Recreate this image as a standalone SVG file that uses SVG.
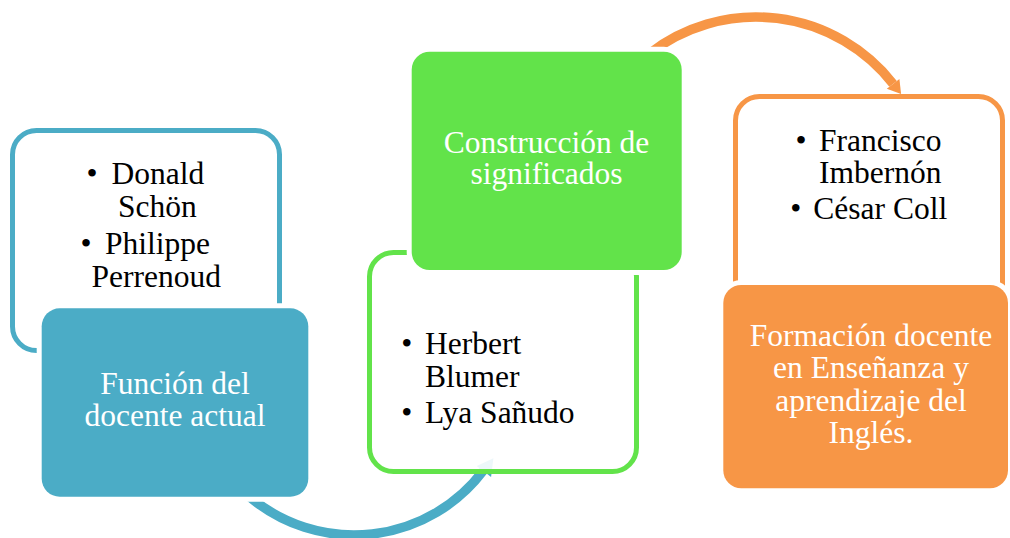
<svg xmlns="http://www.w3.org/2000/svg" width="1010" height="538" viewBox="0 0 1010 538">
  <style>
    .t { font-family: "Liberation Serif", "Times New Roman", serif; font-size: 31.5px; }
    .dark { fill: #000000; }
    .light { fill: #ffffff; }
    .outline { fill: #ffffff; fill-opacity: 0.9; stroke-width: 5; }
    .solid { stroke: #ffffff; stroke-width: 10; paint-order: stroke; }
    .arc { fill: none; stroke-width: 9.5; stroke-linecap: butt; }
  </style>
  <rect width="1010" height="538" fill="#ffffff"/>

  <g id="connectors">
    <g id="arrow-blue">
      <path class="arc" stroke="#4BACC6" d="M249.9,497.1 A162,162 0 0 0 483.4,470.5"/>
      <polygon fill="#4BACC6" points="491.1,476.9 476.7,466.1 493.4,458.3"/>
    </g>
    <g id="arrow-orange">
      <path class="arc" stroke="#F79646" d="M648.9,53.9 A174,174 0 0 1 893.1,83.9"/>
      <polygon fill="#F79646" points="899.4,79 886.8,88.8 901.1,94.1"/>
    </g>
  </g>

  <g id="node-funcion-list">
    <rect class="outline" stroke="#4BACC6" x="12.5" y="130.5" width="267" height="220" rx="24"/>
    <text class="t dark"><tspan x="86.5" y="183.5">•</tspan><tspan x="111.5" y="183.5">Donald</tspan><tspan x="118" y="216.5">Schön</tspan><tspan x="80.5" y="254">•</tspan><tspan x="105" y="254">Philippe</tspan><tspan x="91.5" y="286.5">Perrenoud</tspan></text>
  </g>
  <g id="node-funcion">
    <rect class="solid" fill="#4BACC6" x="41.7" y="308.3" width="266.6" height="188.4" rx="18"/>
    <text class="t light" text-anchor="middle"><tspan x="175" y="394">Función del</tspan><tspan x="175" y="426">docente actual</tspan></text>
  </g>

  <g id="node-construccion-list">
    <rect class="outline" stroke="#62E34A" x="369.5" y="252.5" width="267" height="219" rx="24"/>
    <text class="t dark"><tspan x="401.2" y="354">•</tspan><tspan x="425" y="354">Herbert</tspan><tspan x="425" y="386.5">Blumer</tspan><tspan x="401.2" y="422.7">•</tspan><tspan x="425" y="422.7">Lya Sañudo</tspan></text>
  </g>
  <g id="node-construccion">
    <rect class="solid" fill="#62E34A" x="411.7" y="51.7" width="270" height="218.3" rx="18"/>
    <text class="t light" text-anchor="middle"><tspan x="546.5" y="152.5">Construcción de</tspan><tspan x="546.5" y="184">significados</tspan></text>
  </g>

  <g id="node-formacion-list">
    <rect class="outline" stroke="#F79646" x="735.5" y="96.5" width="267" height="219" rx="24"/>
    <text class="t dark"><tspan x="795.5" y="151">•</tspan><tspan x="819" y="151">Francisco</tspan><tspan x="819" y="183.2">Imbernón</tspan><tspan x="790.2" y="219.3">•</tspan><tspan x="813.3" y="219.3">César Coll</tspan></text>
  </g>
  <g id="node-formacion">
    <rect class="solid" fill="#F79646" x="723.3" y="285" width="284.7" height="203.3" rx="18"/>
    <text class="t light" text-anchor="middle"><tspan x="871" y="345.5">Formación docente</tspan><tspan x="871" y="378">en Enseñanza y</tspan><tspan x="871" y="410.5">aprendizaje del</tspan><tspan x="871" y="443">Inglés.</tspan></text>
  </g>
</svg>
